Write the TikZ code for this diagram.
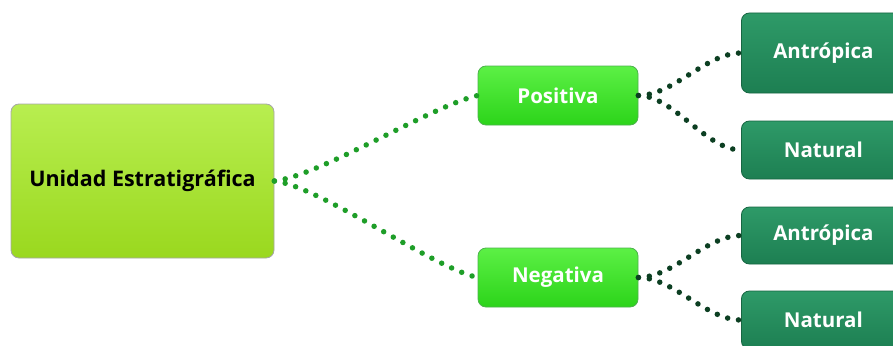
\documentclass[tikz,border=0pt]{standalone}
\usepackage{fontspec}
\setmainfont{Open Sans}
\usetikzlibrary{calc}
\definecolor{mainA}{HTML}{B8EE50}
\definecolor{mainB}{HTML}{9AD81E}
\definecolor{posA}{HTML}{5CF045}
\definecolor{posB}{HTML}{2CD41A}
\definecolor{leafA}{HTML}{2E9A68}
\definecolor{leafB}{HTML}{1D7F52}
\definecolor{dotlight}{HTML}{1E9E28}
\definecolor{dotdark}{HTML}{0C3F22}
\tikzset{
  x=1pt,y=-1pt,
  box/.style={rounded corners=8pt, draw=#1, line width=0.8pt, inner sep=0pt, font=\bfseries},
  mainbox/.style={box=gray!70, top color=mainA, bottom color=mainB, minimum width=263pt, minimum height=154pt, text=black, font=\bfseries\fontsize{21.5}{24}\selectfont},
  midbox/.style={box=green!40!gray, top color=posA, bottom color=posB, minimum width=160pt, minimum height=59pt, text=white, font=\bfseries\fontsize{20.5}{24}\selectfont},
  leafbox/.style={box=leafB!80!black, top color=leafA, bottom color=leafB, minimum width=164pt, text=white, font=\bfseries\fontsize{20.5}{24}\selectfont},
  dots/.style={line width=5.5pt, line cap=round, dash pattern=on 0pt off 11pt, draw=#1},
}
\begin{document}
\begin{tikzpicture}
\useasboundingbox (0,0) rectangle (893,345);
\begin{scope}
\clip (0,0) rectangle (893,345);
\node[mainbox] (u) at (142.5,181) {Unidad Estratigráfica};
\node[midbox] (p) at (558,95.5) {Positiva};
\node[midbox] (n) at (558,277.5) {Negativa};
\node[leafbox, minimum height=80pt, anchor=west] (a1) at (741,53) {Antrópica};
\node[leafbox, minimum height=58pt, anchor=west] (n1) at (741,150) {Natural};
\node[leafbox, minimum height=57pt, anchor=west] (a2) at (741,235.5) {Antrópica};
\node[leafbox, minimum height=58pt, anchor=west] (n2) at (741,320) {Natural};
\draw[dots=dotlight] (u.east) .. controls +(45,-5) and +(-45,10) .. (p.west);
\draw[dots=dotlight] (u.east) .. controls +(45,5) and +(-45,-10) .. (n.west);
\draw[dots=dotdark] (p.east) .. controls +(35,0) and +(-35,0) .. (a1.west);
\draw[dots=dotdark] (p.east) .. controls +(35,0) and +(-35,0) .. (n1.west);
\draw[dots=dotdark] (n.east) .. controls +(35,0) and +(-35,0) .. (a2.west);
\draw[dots=dotdark] (n.east) .. controls +(35,0) and +(-35,0) .. (n2.west);
\end{scope}
\end{tikzpicture}
\end{document}
